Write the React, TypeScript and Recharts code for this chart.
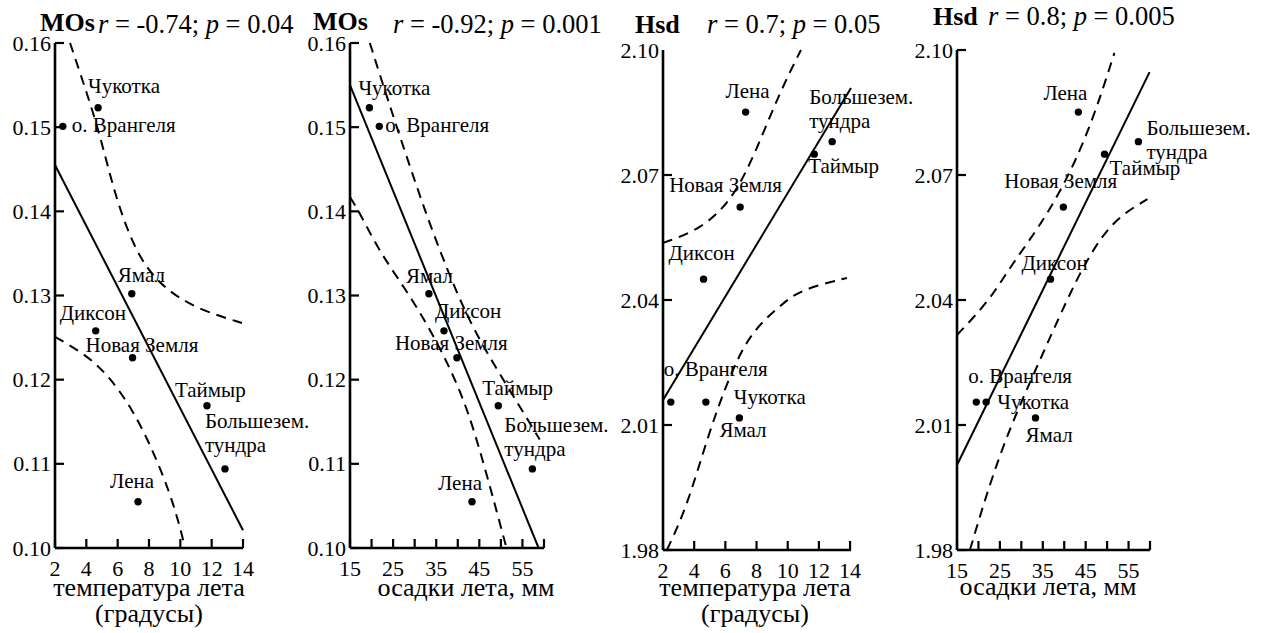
import React from "react";
import { ScatterChart, Scatter, XAxis, YAxis } from "recharts";

// stations (same order in every array)
const stations = [
  "Чукотка",
  "о. Врангеля",
  "Ямал",
  "Диксон",
  "Новая Земля",
  "Таймыр",
  "Большезем. тундра",
  "Лена",
];
const summerTemp = [4.75, 2.5, 6.9, 4.6, 6.95, 11.7, 12.85, 7.3];
const summerPrecip = [19.5, 21.8, 33.3, 36.8, 39.8, 49.4, 57.3, 43.3];
const mosValues = [0.1523, 0.1501, 0.1302, 0.1258, 0.1226, 0.1169, 0.1094, 0.1055];
const hsdValues = [2.0155, 2.0155, 2.0117, 2.045, 2.0623, 2.075, 2.078, 2.0851];

// axis ticks
const tempTicks = [2, 4, 6, 8, 10, 12, 14];
const precipTicks = [15, 20, 25, 30, 35, 40, 45, 50, 55, 60];
const precipTickLabels = [15, 25, 35, 45, 55];
const mosTicks = [0.1, 0.11, 0.12, 0.13, 0.14, 0.15, 0.16];
const hsdTicks = [1.98, 2.01, 2.04, 2.07, 2.1];

// regression lines and confidence bands
const mosTempFitX = [2, 14];
const mosTempFitY = [0.1455, 0.1021];
const mosTempUpperX = [2.96, 3.9, 4.85, 5.9, 7.36, 9.1, 11.2, 14];
const mosTempUpperY = [0.16, 0.1548, 0.1493, 0.1413, 0.1342, 0.1306, 0.1283, 0.1267];
const mosTempLowerX = [2, 4.04, 5.5, 6.97, 8.25, 9.34, 9.98, 10.3];
const mosTempLowerY = [0.1251, 0.1229, 0.1203, 0.1164, 0.1116, 0.1065, 0.1025, 0.1];

const mosPrecipFitX = [15, 58.75];
const mosPrecipFitY = [0.155, 0.1];
const mosPrecipUpperX = [19.6, 23.8, 28.9, 34.2, 41.6, 48.1, 54.4, 59];
const mosPrecipUpperY = [0.16, 0.1532, 0.1453, 0.1374, 0.1279, 0.122, 0.1168, 0.1129];
const mosPrecipLowerX = [15, 17.3, 21.9, 29.6, 35.8, 40.5, 44.4, 51.3];
const mosPrecipLowerY = [0.1417, 0.1398, 0.1351, 0.1295, 0.1239, 0.1188, 0.1132, 0.1];

const hsdTempFitX = [2, 14.06];
const hsdTempFitY = [2.016, 2.0909];
const hsdTempUpperX = [2, 4.36, 6.47, 8.0, 9.47, 10.85];
const hsdTempUpperY = [2.0537, 2.0568, 2.064, 2.076, 2.0897, 2.1];
const hsdTempLowerX = [2.25, 3.53, 4.8, 6.08, 7.55, 9.47, 10.7, 13.8];
const hsdTempLowerY = [1.98, 1.9903, 2.0064, 2.0201, 2.0321, 2.0384, 2.0424, 2.0453];

const hsdPrecipFitX = [15, 59.9];
const hsdPrecipFitY = [2.0004, 2.0947];
const hsdPrecipUpperX = [15, 22.7, 27.3, 36.6, 45.2, 51.7];
const hsdPrecipUpperY = [2.0316, 2.04, 2.0479, 2.0609, 2.0784, 2.0993];
const hsdPrecipLowerX = [18, 25, 33.6, 40.6, 45.2, 51.3, 59.4];
const hsdPrecipLowerY = [1.98, 2.004, 2.0239, 2.04, 2.0496, 2.0592, 2.0642];

const FONT = "'Liberation Serif', 'Times New Roman', serif";
const AXIS = { stroke: "#000", strokeWidth: 2.6 };
const SOLID = { stroke: "#000", strokeWidth: 2 };
const DASHED = { stroke: "#000", strokeWidth: 2, strokeDasharray: "10 7" };

// label offsets from each dot (first-line baseline)
const labels1: Record<string, [number, number]> = {
  "Чукотка": [-10, -15],
  "о. Врангеля": [9, 6],
  "Ямал": [-14, -12],
  "Диксон": [-36, -11],
  "Новая Земля": [-47, -6],
  "Таймыр": [-32, -9],
  "Большезем. тундра": [-20, -41],
  "Лена": [-28, -14],
};
const labels2: Record<string, [number, number]> = {
  "Чукотка": [-11, -13],
  "о. Врангеля": [6, 6],
  "Ямал": [-23, -11],
  "Диксон": [-9, -13],
  "Новая Земля": [-62, -8],
  "Таймыр": [-16, -11],
  "Большезем. тундра": [-28, -37],
  "Лена": [-34, -12],
};
const labels3: Record<string, [number, number]> = {
  "Чукотка": [28, 2],
  "о. Врангеля": [-7, -26],
  "Ямал": [-20, 19],
  "Диксон": [-35, -19],
  "Новая Земля": [-71, -15],
  "Таймыр": [-6, 19],
  "Большезем. тундра": [-23, -38],
  "Лена": [-20, -14],
};
const labels4: Record<string, [number, number]> = {
  "Чукотка": [21, 7],
  "о. Врангеля": [-18, -19],
  "Ямал": [-10, 24],
  "Диксон": [-29, -9],
  "Новая Земля": [-59, -19],
  "Таймыр": [5, 21],
  "Большезем. тундра": [8, -7],
  "Лена": [-35, -12],
};

const zip = (xs: number[], ys: number[]) => xs.map((x, i) => ({ x, y: ys[i] }));
const stationPoints = (xs: number[], ys: number[]) =>
  stations.map((name, i) => ({ name, x: xs[i], y: ys[i] }));

const noDot = () => <g />;

function makeDot(labels: Record<string, [number, number]>) {
  return (props: any) => {
    const { cx, cy, payload } = props;
    const [dx, dy] = labels[payload.name] || [6, -6];
    const lines = payload.name.startsWith("Большезем")
      ? ["Большезем.", "тундра"]
      : [payload.name];
    return (
      <g>
        <circle cx={cx} cy={cy} r={3.7} fill="#000" />
        <text x={cx + dx} y={cy + dy} fontSize={21} fontFamily={FONT} fill="#000">
          {lines.map((l, i) => (
            <tspan key={i} x={cx + dx} dy={i === 0 ? 0 : 24}>
              {l}
            </tspan>
          ))}
        </text>
      </g>
    );
  };
}

function XTick(props: any) {
  const { x, y, payload, labelled } = props;
  const show = !labelled || labelled.includes(payload.value);
  return (
    <g>
      <line x1={x} y1={y} x2={x} y2={y - 9} stroke="#000" strokeWidth={2.2} />
      {show && (
        <text x={x} y={y + 28} textAnchor="middle" fontSize={22} fontFamily={FONT} fill="#000">
          {payload.value}
        </text>
      )}
    </g>
  );
}

function YTick(props: any) {
  const { x, y, payload, topMax, hideTop } = props;
  const isTop = Math.abs(payload.value - topMax) < 1e-9;
  return (
    <g>
      {!(hideTop && isTop) && (
        <line x1={x} y1={y} x2={x + 9} y2={y} stroke="#000" strokeWidth={2.2} />
      )}
      <text x={x - 4} y={y + 7.5} textAnchor="end" fontSize={22} fontFamily={FONT} fill="#000">
        {payload.value.toFixed(2)}
      </text>
    </g>
  );
}

type PanelProps = {
  left: number;
  width: number;
  plot: { left: number; right: number; top: number; bottom: number };
  xDomain: [number, number];
  xTicks: number[];
  xLabelled?: number[];
  yDomain: [number, number];
  yTicks: number[];
  hideTopTick?: boolean;
  points: { name: string; x: number; y: number }[];
  fit: { x: number; y: number }[];
  upper: { x: number; y: number }[];
  lower: { x: number; y: number }[];
  labels: Record<string, [number, number]>;
};

function Panel(p: PanelProps) {
  const H = 633;
  const yW = 50;
  const xH = 60;
  const margin = {
    top: p.plot.top,
    bottom: H - p.plot.bottom - xH,
    left: p.plot.left - p.left - yW,
    right: p.left + p.width - p.plot.right,
  };
  return (
    <div style={{ position: "absolute", left: p.left, top: 0 }}>
      <ScatterChart width={p.width} height={H} margin={margin} style={{ overflow: "visible" }}>
        <XAxis
          type="number"
          dataKey="x"
          domain={p.xDomain}
          ticks={p.xTicks}
          interval={0}
          tickSize={0}
          tickMargin={0}
          height={xH}
          axisLine={AXIS}
          tickLine={false}
          tick={<XTick labelled={p.xLabelled} />}
        />
        <YAxis
          type="number"
          dataKey="y"
          domain={p.yDomain}
          ticks={p.yTicks}
          interval={0}
          tickSize={0}
          tickMargin={0}
          width={yW}
          axisLine={AXIS}
          tickLine={false}
          tick={<YTick topMax={p.yDomain[1]} hideTop={p.hideTopTick} />}
        />
        <Scatter data={p.fit} fill="#000" line={SOLID} shape={noDot} isAnimationActive={false} />
        <Scatter
          data={p.upper}
          fill="#000"
          line={DASHED}
          lineJointType="basis"
          shape={noDot}
          isAnimationActive={false}
        />
        <Scatter
          data={p.lower}
          fill="#000"
          line={DASHED}
          lineJointType="basis"
          shape={noDot}
          isAnimationActive={false}
        />
        <Scatter data={p.points} fill="#000" shape={makeDot(p.labels)} isAnimationActive={false} />
      </ScatterChart>
    </div>
  );
}

function Stat({ x, y, r, pv }: { x: number; y: number; r: string; pv: string }) {
  return (
    <text x={x} y={y} fontSize={26.5} fontFamily={FONT} fill="#000">
      <tspan fontStyle="italic">r</tspan>
      {` = ${r}; `}
      <tspan fontStyle="italic">p</tspan>
      {` = ${pv}`}
    </text>
  );
}

export default function App() {
  const title = { fontSize: 26, fontFamily: FONT, fontWeight: 700, fill: "#000" } as const;
  const axisTitle = { fontSize: 26, fontFamily: FONT, fill: "#000", textAnchor: "middle" } as const;
  return (
    <div
      style={{
        position: "absolute",
        left: 0,
        top: 0,
        width: 1269,
        height: 633,
        background: "#fff",
        overflow: "hidden",
      }}
    >
      <Panel
        left={0}
        width={340}
        plot={{ left: 55, right: 243, top: 43, bottom: 548 }}
        xDomain={[2, 14]}
        xTicks={tempTicks}
        yDomain={[0.1, 0.16]}
        yTicks={mosTicks}
        points={stationPoints(summerTemp, mosValues)}
        fit={zip(mosTempFitX, mosTempFitY)}
        upper={zip(mosTempUpperX, mosTempUpperY)}
        lower={zip(mosTempLowerX, mosTempLowerY)}
        labels={labels1}
      />
      <Panel
        left={300}
        width={340}
        plot={{ left: 350, right: 544, top: 43, bottom: 548 }}
        xDomain={[15, 60]}
        xTicks={precipTicks}
        xLabelled={precipTickLabels}
        yDomain={[0.1, 0.16]}
        yTicks={mosTicks}
        points={stationPoints(summerPrecip, mosValues)}
        fit={zip(mosPrecipFitX, mosPrecipFitY)}
        upper={zip(mosPrecipUpperX, mosPrecipUpperY)}
        lower={zip(mosPrecipLowerX, mosPrecipLowerY)}
        labels={labels2}
      />
      <Panel
        left={600}
        width={340}
        plot={{ left: 663, right: 851, top: 50, bottom: 550 }}
        xDomain={[2, 14]}
        xTicks={tempTicks}
        yDomain={[1.98, 2.1]}
        yTicks={hsdTicks}
        hideTopTick
        points={stationPoints(summerTemp, hsdValues)}
        fit={zip(hsdTempFitX, hsdTempFitY)}
        upper={zip(hsdTempUpperX, hsdTempUpperY)}
        lower={zip(hsdTempLowerX, hsdTempLowerY)}
        labels={labels3}
      />
      <Panel
        left={900}
        width={369}
        plot={{ left: 957, right: 1150, top: 50, bottom: 550 }}
        xDomain={[15, 60]}
        xTicks={precipTicks}
        xLabelled={precipTickLabels}
        yDomain={[1.98, 2.1]}
        yTicks={hsdTicks}
        points={stationPoints(summerPrecip, hsdValues)}
        fit={zip(hsdPrecipFitX, hsdPrecipFitY)}
        upper={zip(hsdPrecipUpperX, hsdPrecipUpperY)}
        lower={zip(hsdPrecipLowerX, hsdPrecipLowerY)}
        labels={labels4}
      />
      <svg
        width={1269}
        height={633}
        style={{ position: "absolute", left: 0, top: 0, pointerEvents: "none" }}
      >
        <text x={40} y={31} {...title}>MOs</text>
        <Stat x={98} y={33} r="-0.74" pv="0.04" />
        <text x={313} y={30} {...title}>MOs</text>
        <Stat x={393} y={33} r="-0.92" pv="0.001" />
        <text x={635} y={33} {...title}>Hsd</text>
        <Stat x={707} y={33} r="0.7" pv="0.05" />
        <text x={933} y={25} {...title}>Hsd</text>
        <Stat x={988} y={25} r="0.8" pv="0.005" />

        <text x={149} y={596} {...axisTitle}>температура лета</text>
        <text x={149} y={622} {...axisTitle}>(градусы)</text>
        <text x={466} y={596} {...axisTitle}>осадки лета, мм</text>
        <text x={755} y={596} {...axisTitle}>температура лета</text>
        <text x={755} y={622} {...axisTitle}>(градусы)</text>
        <text x={1048} y={595} {...axisTitle}>осадки лета, мм</text>
      </svg>
    </div>
  );
}
